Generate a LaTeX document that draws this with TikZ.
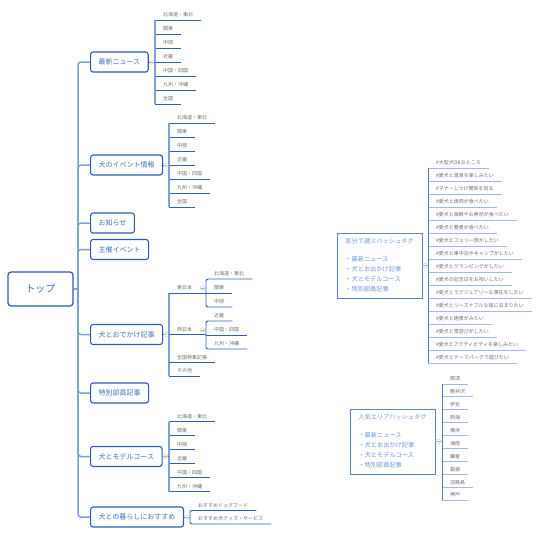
\documentclass[tikz,border=0pt]{standalone}
\usepackage{fontspec}
\setmainfont{Noto Sans CJK JP}
\usetikzlibrary{positioning,calc}
\definecolor{boxblue}{RGB}{43,92,176}
\definecolor{txtblue}{RGB}{62,112,196}
\definecolor{trunkblue}{RGB}{125,160,218}
\definecolor{lineblue}{RGB}{50,95,185}
\definecolor{tagline}{RGB}{160,185,230}
\definecolor{tagstem}{RGB}{90,120,190}
\definecolor{tagborder}{RGB}{95,130,200}
\definecolor{tagtext}{RGB}{110,150,215}
\definecolor{leafgray}{RGB}{110,110,110}

\begin{document}
\begin{tikzpicture}[x=1pt, y=-1pt,
  topbox/.style={draw=boxblue, line width=1.2pt, rounded corners=3pt, text=txtblue,
                 minimum width=65pt, minimum height=34pt, font=\fontsize{10}{12}\selectfont},
  mainbox/.style={draw=boxblue, line width=1.1pt, rounded corners=2.5pt, text=txtblue, anchor=west,
                  minimum height=20pt, inner xsep=8pt, font=\fontsize{7}{8}\selectfont},
  leaf/.style={anchor=south west, inner xsep=8pt, inner ysep=2.5pt, text=leafgray,
               font=\fontsize{5}{6}\selectfont},
  tagbox/.style={draw=tagborder, line width=0.9pt, text=tagtext, align=left,
                 minimum width=85pt, minimum height=65pt, font=\fontsize{6.2}{10}\selectfont},
  trunk/.style={draw=trunkblue, line width=1.5pt, rounded corners=3pt},
  stem/.style={draw=trunkblue, line width=1.2pt},
  uline/.style={draw=lineblue, line width=0.9pt},
  tagul/.style={draw=tagline, line width=0.9pt},
  tagst/.style={draw=tagstem, line width=0.9pt},
  knob/.style={circle, draw=black!25, fill=white, line width=0.3pt, minimum size=4.4pt, inner sep=0pt,
               path picture={\draw[black!30, line width=0.3pt]
                 ([xshift=0.9pt]path picture bounding box.west) -- ([xshift=-0.9pt]path picture bounding box.east);}},
]
\useasboundingbox (0,0) rectangle (539,536);

% root and first level
\node[topbox] (top) at (40.5,289) {トップ};
\coordinate (hub) at (78,289);
\node[mainbox] (news) at (90,62) {最新ニュース};
\node[mainbox] (event) at (90,165) {犬のイベント情報};
\node[mainbox] (notice) at (90,223) {お知らせ};
\node[mainbox] (hosted) at (90,249.5) {主催イベント};
\node[mainbox] (outing) at (90,334.5) {犬とおでかけ記事};
\node[mainbox] (special) at (90,393) {特別部員記事};
\node[mainbox] (course) at (90,456.5) {犬とモデルコース};
\node[mainbox] (life) at (90,517) {犬との暮らしにおすすめ};
\draw[trunk] (top.east) -- (hub);
\foreach \n in {news,event,notice,hosted,outing,special,course,life}
  \draw[trunk] (hub) |- (\n.west);

% news by region
\foreach \t [count=\i] in {北海道・東北,関東,中部,近畿,中国・四国,九州・沖縄,全国}{
  \node[leaf] (news\i) at (155,{20+14*(\i-1)}) {\t};
  \draw[uline] (news\i.south west) -- (news\i.south east);
}
\draw[stem] (news1.south west) -- (news7.south west);
\draw[uline] (news.east) -- (news.east -| news1.south west);

% events by region
\foreach \t [count=\i] in {北海道・東北,関東,中部,近畿,中国・四国,九州・沖縄,全国}{
  \node[leaf] (event\i) at (169,{123+14*(\i-1)}) {\t};
  \draw[uline] (event\i.south west) -- (event\i.south east);
}
\draw[stem] (event1.south west) -- (event7.south west);
\draw[uline] (event.east) -- (event.east -| event1.south west);

% outing articles
\node[leaf] (east) at (169,293) {東日本};
\node[leaf] (west) at (169,335) {西日本};
\node[leaf] (feature) at (169,362.5) {全国特集記事};
\node[leaf] (others) at (169,376) {その他};
\foreach \t [count=\i] in {北海道・東北,関東,中部}
  \node[leaf] (east\i) at (206,{279+14*(\i-1)}) {\t};
\foreach \t [count=\i] in {近畿,中国・四国,九州・沖縄}
  \node[leaf] (west\i) at (206,{321+14*(\i-1)}) {\t};
\draw[stem] (east.south west) -- (others.south west);
\draw[uline] (east.south west) -- (east.south west -| east1.south west);
\draw[uline] (outing.east) -- (outing.east -| west1.south west);
\draw[uline] (feature.south west) -- (feature.south east);
\draw[uline] (others.south west) -- (others.south east);
\draw[uline, rounded corners=2pt] (east1.south east) -- (east1.south west) -- (east3.south west) -- (east3.south east);
\draw[uline] (east2.south west) -- (east2.south east);
\draw[uline, rounded corners=2pt] (west1.south east) -- (west1.south west) -- (west3.south west) -- (west3.south east);
\draw[uline] (west2.south west) -- (west2.south east);

% model courses by region
\foreach \t [count=\i] in {北海道・東北,関東,中部,近畿,中国・四国,九州・沖縄}{
  \node[leaf] (course\i) at (169,{421.5+14*(\i-1)}) {\t};
  \draw[uline] (course\i.south west) -- (course\i.south east);
}
\draw[stem] (course1.south west) -- (course6.south west);
\draw[uline] (course.east) -- (course.east -| course1.south west);

% recommendations
\node[leaf] (food) at (190,510.5) {おすすめドッグフード};
\node[leaf] (goods) at (190,524) {おすすめ犬グッズ・サービス};
\draw[uline, rounded corners=2pt] (food.south east) -- (food.south west) -- (goods.south west) -- (goods.south east);
\draw[uline] (life.east) -- (life.east -| food.south west);

% hashtag boxes
\node[tagbox] (mood) at (379.5,265.5) {気分で選ぶハッシュタグ\\[8pt]・最新ニュース\\・犬とお出かけ記事\\・犬とモデルコース\\・特別部員記事};
\node[tagbox] (area) at (392.5,441.5) {人気エリアハッシュタグ\\[8pt]・最新ニュース\\・犬とお出かけ記事\\・犬とモデルコース\\・特別部員記事};

\foreach \t [count=\i] in {\#大型犬OKなところ,\#愛犬と温泉を楽しみたい,\#マナーしつけ関係を知る,
    \#愛犬と焼肉が食べたい,\#愛犬と海鮮やお寿司が食べたい,\#愛犬と蕎麦が食べたい,
    \#愛犬とフェリー旅がしたい,\#愛犬と車中泊やキャンプがしたい,\#愛犬とグランピングがしたい,
    \#愛犬の記念日をお祝いしたい,\#愛犬とラグジュアリーな滞在をしたい,\#愛犬とリーズナブルな宿に泊まりたい,
    \#愛犬と絶景がみたい,\#愛犬と雪遊びがしたい,\#愛犬とアクティビティを楽しみたい,\#愛犬とテーマパークで遊びたい}{
  \node[leaf] (mood\i) at (428,{168+13*(\i-1)}) {\t};
  \draw[tagul] (mood\i.south west) -- (mood\i.south east);
}
\draw[tagst] (mood1.south west) -- (mood16.south west);
\draw[tagul] (mood.east) -- (mood.east -| mood1.south west);

\foreach \t [count=\i] in {那須,軽井沢,伊豆,熱海,横浜,湘南,鎌倉,箱根,淡路島,神戸}{
  \node[leaf] (area\i) at (442,{384+12.9*(\i-1)}) {\t};
  \draw[tagul] (area\i.south west) -- (area\i.south east);
}
\draw[tagst] (area1.south west) -- (area10.south west);
\draw[tagul] (area.east) -- (area.east -| area1.south west);

% collapse markers
\node[knob] (newsknob) at ([xshift=3pt]news.east) {};
\node[knob] (eventknob) at ([xshift=3pt]event.east) {};
\node[knob] (outingknob) at ([xshift=3pt]outing.east) {};
\node[knob] (eastknob) at ([xshift=2pt]east.east) {};
\node[knob] (westknob) at ([xshift=2pt]west.east) {};
\node[knob] (courseknob) at ([xshift=3pt]course.east) {};
\node[knob] (lifeknob) at ([xshift=3pt]life.east) {};
\node[knob] (moodknob) at ([xshift=3pt]mood.east) {};
\node[knob] (areaknob) at ([xshift=3pt]area.east) {};
\end{tikzpicture}
\end{document}
